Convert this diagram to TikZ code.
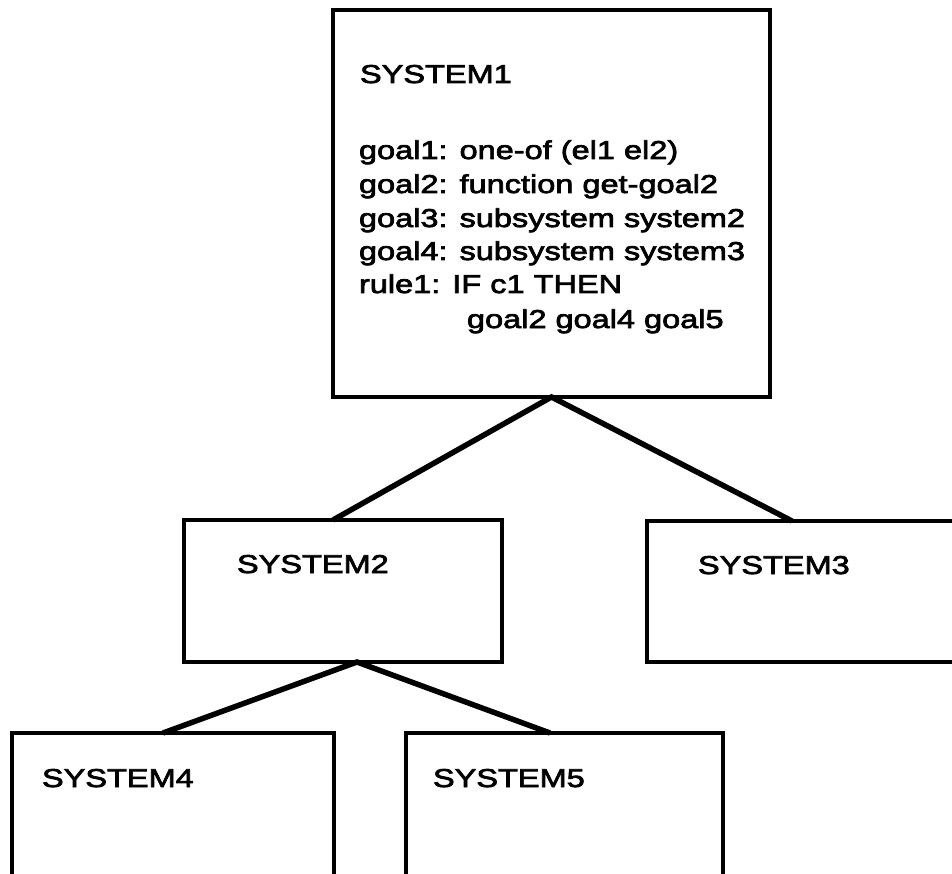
\documentclass[tikz,border=0pt]{standalone}
\usepackage{fontspec}
\setmainfont{Liberation Sans}[FakeStretch=1.26,FakeBold=2.8]
\usetikzlibrary{calc}
\begin{document}
\begin{tikzpicture}[x=1pt,y=-1pt,
  sysbox/.style={draw=black,line width=4.5pt,rectangle,inner sep=0pt,outer sep=0pt},
  conn/.style={draw=black,line width=5.5pt},
  lbl/.style={anchor=base west,inner sep=0pt,outer sep=0pt,font=\fontsize{25.8}{34}\selectfont}]
\clip (0,0) rectangle (952,874);
\fill[white] (0,0) rectangle (952,874);
% boxes
\node[sysbox,minimum width=437pt,minimum height=387pt] (s1) at (551.5,203.5) {};
\node[sysbox,minimum width=318pt,minimum height=142pt] (s2) at (343,591) {};
\node[sysbox,minimum width=353pt,minimum height=141pt] (s3) at (823.5,591.5) {};
\node[sysbox,minimum width=322pt,minimum height=217pt] (s4) at (173,841.5) {};
\node[sysbox,minimum width=317pt,minimum height=217pt] (s5) at (564.5,841.5) {};
% texts
\node[lbl] (t1) at (360,83) {SYSTEM1};
\node[lbl] (g1) at (359,159) {goal1: one-of (el1 el2)};
\node[lbl] (g2) at (359,193) {goal2: function get-goal2};
\node[lbl] (g3) at (359,227) {goal3: subsystem system2};
\node[lbl] (g4) at (359,260) {goal4: subsystem system3};
\node[lbl] (r1) at (359,293) {rule1: IF c1 THEN};
\node[lbl] (r2) at (467,328) {goal2 goal4 goal5};
\node[lbl] (t2) at (237,573) {SYSTEM2};
\node[lbl] (t3) at (698,574) {SYSTEM3};
\node[lbl] (t4) at (42,787) {SYSTEM4};
\node[lbl] (t5) at (433,787) {SYSTEM5};
% connectors
\coordinate (j2) at ($(s2.south west)+(173,0)$);
\draw[conn] ($(s2.north west)+(149,0)$) -- (s1.south) -- ($(s3.north west)+(145,0)$);
\draw[conn] ($(s4.north west)+(151,0)$) -- (j2) -- ($(s5.north west)+(144,0)$);
\end{tikzpicture}
\end{document}
